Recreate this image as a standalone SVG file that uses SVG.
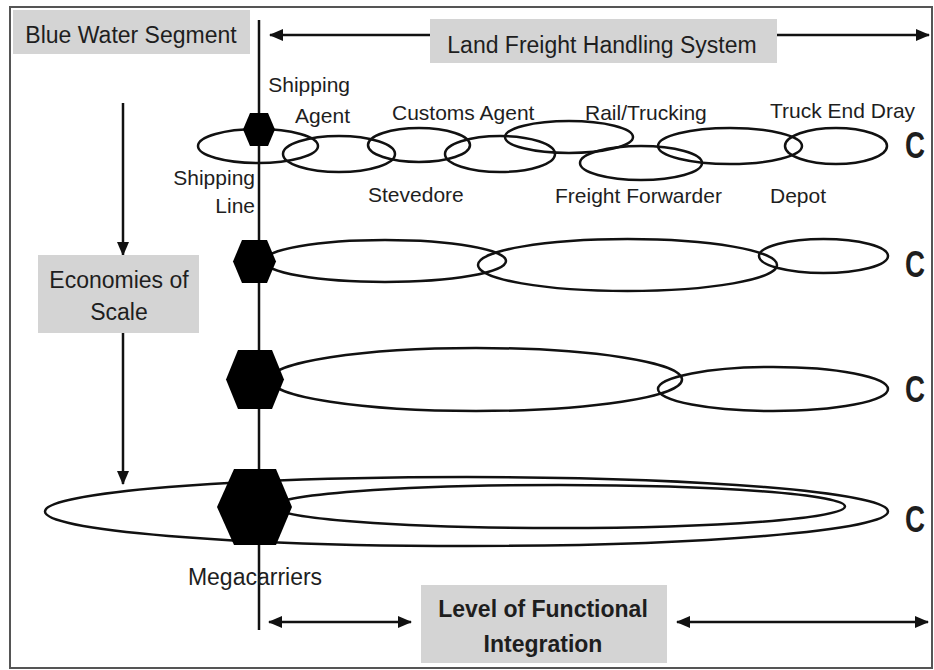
<svg xmlns="http://www.w3.org/2000/svg" width="934" height="670" viewBox="0 0 934 670">
<style>
text{font-family:"Liberation Sans",Arial,sans-serif;fill:#1e1e1e}
.lbl{font-size:21px}
.big{font-size:23px}
.bold{font-size:23px;font-weight:bold}
.c{font-size:36px;font-weight:bold}
.box{fill:#d4d4d4;stroke:none}
.ell{fill:none;stroke:#111;stroke-width:2.5}
.hex{fill:#000;stroke:none}
.ln{fill:none;stroke:#111;stroke-width:2.5}
</style>
<defs>
<marker id="ah" markerUnits="userSpaceOnUse" markerWidth="14" markerHeight="12" refX="13" refY="6" orient="auto-start-reverse" viewBox="0 0 14 12">
<path d="M0,0 L14,6 L0,12 Z" fill="#111"/>
</marker>
</defs>
<rect x="10" y="7" width="922" height="661" fill="#fff" stroke="#555" stroke-width="2"/>

<g id="connectors">
<line class="ln" x1="259" y1="20" x2="259" y2="630"/>
<line class="ln" x1="430" y1="35" x2="270" y2="35" marker-end="url(#ah)"/>
<line class="ln" x1="777" y1="35" x2="929" y2="35" marker-end="url(#ah)"/>
<line class="ln" x1="123" y1="103" x2="123" y2="255" marker-end="url(#ah)"/>
<line class="ln" x1="123" y1="333" x2="123" y2="484" marker-end="url(#ah)"/>
<line class="ln" x1="269" y1="622" x2="411" y2="622" marker-start="url(#ah)" marker-end="url(#ah)"/>
<line class="ln" x1="677" y1="622" x2="928" y2="622" marker-start="url(#ah)" marker-end="url(#ah)"/>
</g>

<g id="blue-water-segment">
<rect class="box" x="13" y="10" width="237" height="44"/>
<text class="big" x="131" y="43" text-anchor="middle">Blue Water Segment</text>
</g>
<g id="land-freight">
<rect class="box" x="430" y="19" width="347" height="44"/>
<text class="big" x="602" y="53" text-anchor="middle">Land Freight Handling System</text>
</g>
<g id="economies-of-scale">
<rect class="box" x="38" y="255" width="161" height="78"/>
<text class="big" x="119" y="288" text-anchor="middle">Economies of</text>
<text class="big" x="119" y="320" text-anchor="middle">Scale</text>
</g>
<g id="functional-integration">
<rect class="box" x="421" y="585" width="246" height="78"/>
<text class="bold" x="543" y="617" text-anchor="middle">Level of Functional</text>
<text class="bold" x="543" y="652" text-anchor="middle">Integration</text>
</g>

<g id="row1">
<g id="shipping-line"><ellipse class="ell" cx="258" cy="146" rx="60" ry="17"/>
<text class="lbl" x="255" y="185" text-anchor="end">Shipping</text><text class="lbl" x="255" y="213" text-anchor="end">Line</text></g>
<g id="shipping-agent"><ellipse class="ell" cx="339" cy="154" rx="56" ry="18"/>
<text class="lbl" x="350" y="92" text-anchor="end">Shipping</text><text class="lbl" x="350" y="123" text-anchor="end">Agent</text></g>
<g id="customs-agent"><ellipse class="ell" cx="419" cy="145" rx="51" ry="17"/>
<text class="lbl" x="392" y="120">Customs Agent</text></g>
<g id="stevedore"><ellipse class="ell" cx="500" cy="154" rx="55" ry="18"/>
<text class="lbl" x="368" y="202">Stevedore</text></g>
<g id="rail-trucking"><ellipse class="ell" cx="569" cy="137" rx="64" ry="16"/>
<text class="lbl" x="585" y="120">Rail/Trucking</text></g>
<g id="freight-forwarder"><ellipse class="ell" cx="641" cy="163" rx="61" ry="17"/>
<text class="lbl" x="555" y="203">Freight Forwarder</text></g>
<g id="depot"><ellipse class="ell" cx="730" cy="146" rx="72" ry="18"/>
<text class="lbl" x="770" y="203">Depot</text></g>
<g id="truck-end-dray"><ellipse class="ell" cx="836" cy="146" rx="51" ry="18"/>
<text class="lbl" x="770" y="118">Truck End Dray</text></g>
<g id="hex1"><polygon class="hex" points="243,129.5 250,113 268,113 275,129.5 268,146 250,146"/></g>
<text class="c" x="905" y="158" textLength="20" lengthAdjust="spacingAndGlyphs">C</text>
</g>

<g id="row2">
<ellipse class="ell" cx="385" cy="261" rx="121" ry="21"/>
<ellipse class="ell" cx="627.5" cy="265" rx="149.5" ry="26"/>
<ellipse class="ell" cx="823.5" cy="256" rx="64.5" ry="17"/>
<g id="hex2"><polygon class="hex" points="233,261.5 242,240 267,240 276,261.5 267,283 242,283"/></g>
<text class="c" x="905" y="277" textLength="20" lengthAdjust="spacingAndGlyphs">C</text>
</g>

<g id="row3">
<ellipse class="ell" cx="476" cy="379.5" rx="206" ry="31.5"/>
<ellipse class="ell" cx="773" cy="389" rx="115" ry="22"/>
<g id="hex3"><polygon class="hex" points="226,379.5 238,350 272,350 284,379.5 272,409 238,409"/></g>
<text class="c" x="905" y="402" textLength="20" lengthAdjust="spacingAndGlyphs">C</text>
</g>

<g id="row4">
<ellipse class="ell" cx="466.5" cy="511.5" rx="421.5" ry="34.5"/>
<ellipse class="ell" cx="559" cy="506.5" rx="286" ry="21.5"/>
<g id="megacarriers"><polygon class="hex" points="217,507 234,469 276,469 292,507 276,545 234,545"/>
<text class="big" x="255" y="585" text-anchor="middle">Megacarriers</text></g>
<text class="c" x="905" y="532" textLength="20" lengthAdjust="spacingAndGlyphs">C</text>
</g>
</svg>
